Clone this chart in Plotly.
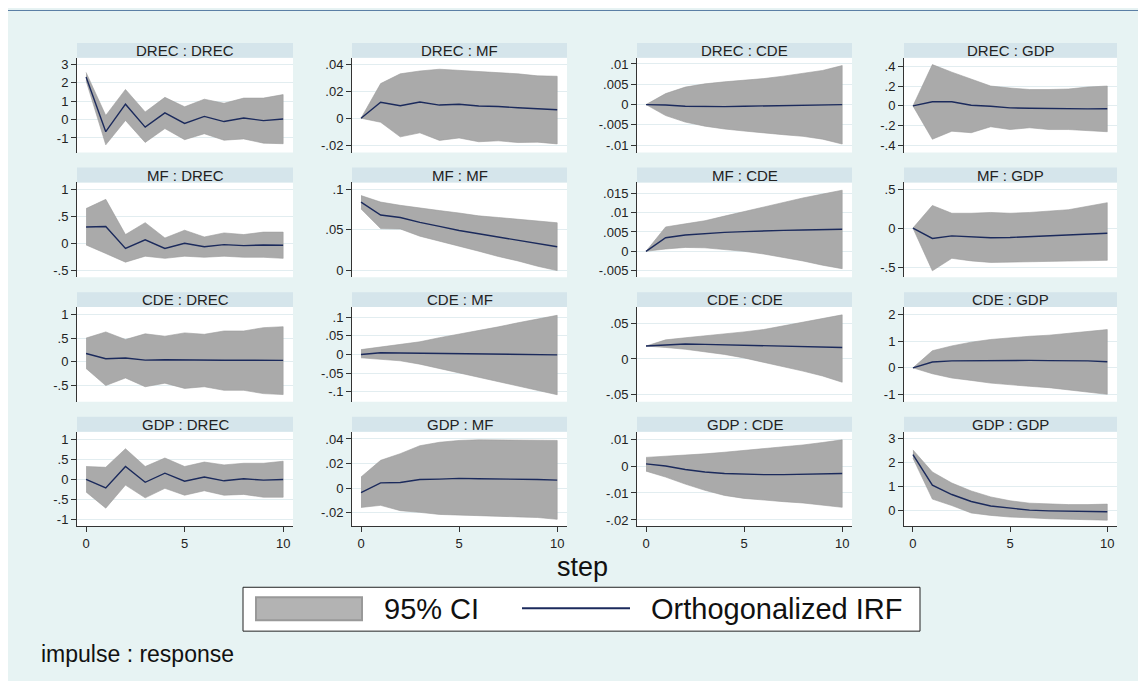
import plotly.graph_objects as go

# ---------------- data ----------------
variables = ["DREC", "MF", "CDE", "GDP"]
steps = list(range(11))
x_ticks = ["0", "5", "10"]

DREC_DREC_irf = [2.30, -0.66, 0.83, -0.41, 0.36, -0.21, 0.17, -0.11, 0.08, -0.06, 0.03]
DREC_DREC_lo = [2.10, -1.37, -0.05, -1.24, -0.49, -1.09, -0.77, -1.12, -1.05, -1.28, -1.31]
DREC_DREC_hi = [2.55, 0.22, 1.63, 0.41, 1.20, 0.69, 1.10, 0.88, 1.16, 1.16, 1.35]
DREC_DREC_ticks = ["-1", "0", "1", "2", "3"]

DREC_MF_irf = [0, .0118, .0092, .012, .0097, .0103, .009, .0087, .0077, .0072, .0062]
DREC_MF_lo = [0, -.003, -.0138, -.0108, -.0164, -.0146, -.0174, -.0167, -.018, -.0177, -.019]
DREC_MF_hi = [0, .0256, .0328, .0349, .0362, .0354, .0346, .0333, .0328, .0313, .031]
DREC_MF_ticks = ["-.02", "0", ".02", ".04"]

DREC_CDE_irf = [0, -.0001, -.0004, -.0005, -.0005, -.0004, -.0003, -.0002, -.0001, -.0001, 0]
DREC_CDE_lo = [0, -.0027, -.0043, -.0053, -.006, -.0065, -.007, -.0074, -.0078, -.0085, -.0097]
DREC_CDE_hi = [0, .0027, .0043, .0051, .0056, .006, .0064, .007, .0077, .0084, .0096]
DREC_CDE_ticks = ["-.01", "-.005", "0", ".005", ".01"]

DREC_GDP_irf = [0, .042, .042, .007, -.003, -.02, -.024, -.028, -.03, -.03, -.028]
DREC_GDP_lo = [0, -.336, -.255, -.27, -.21, -.238, -.22, -.238, -.238, -.25, -.26]
DREC_GDP_hi = [0, .416, .34, .27, .2, .18, .165, .165, .17, .19, .2]
DREC_GDP_ticks = ["-.4", "-.2", "0", ".2", ".4"]

MF_DREC_irf = [.30, .31, -.096, .064, -.096, 0, -.064, -.026, -.045, -.032, -.038]
MF_DREC_lo = [-.032, -.19, -.35, -.24, -.28, -.24, -.26, -.24, -.26, -.26, -.28]
MF_DREC_hi = [.64, .81, .16, .38, .096, .24, .115, .19, .16, .205, .205]
MF_DREC_ticks = ["-.5", "0", ".5", "1"]

MF_MF_irf = [.084, .068, .065, .059, .054, .049, .045, .041, .037, .033, .029]
MF_MF_lo = [.0756, .0513, .0509, .042, .036, .0295, .0235, .017, .0115, .005, -.0004]
MF_MF_hi = [.092, .084, .080, .0765, .0735, .0705, .067, .065, .063, .061, .0585]
MF_MF_ticks = ["0", ".05", ".1"]

MF_CDE_irf = [0, .0035, .0042, .0046, .0049, .0051, .0053, .0054, .0055, .0056, .0057]
MF_CDE_lo = [0, .0006, .001, .0009, .0005, 0, -.0007, -.0016, -.0025, -.0036, -.0045]
MF_CDE_hi = [0, .0063, .0071, .0079, .0091, .0103, .0115, .0127, .0138, .0148, .0158]
MF_CDE_ticks = ["-.005", "0", ".005", ".01", ".015"]

MF_GDP_irf = [0, -.133, -.10, -.11, -.124, -.12, -.11, -.10, -.089, -.075, -.067]
MF_GDP_lo = [0, -.547, -.387, -.42, -.44, -.435, -.43, -.43, -.42, -.418, -.413]
MF_GDP_hi = [0, .29, .19, .19, .2, .19, .2, .213, .235, .28, .325]
MF_GDP_ticks = ["-.5", "0", ".5"]

CDE_DREC_irf = [.175, .066, .08, .036, .044, .036, .036, .034, .034, .032, .03]
CDE_DREC_lo = [-.14, -.50, -.34, -.525, -.45, -.56, -.525, -.6, -.6, -.67, -.69]
CDE_DREC_hi = [.5, .63, .47, .59, .54, .61, .58, .65, .65, .72, .74]
CDE_DREC_ticks = ["-.5", "0", ".5", "1"]

CDE_MF_irf = [0, .0047, .004, .0035, .0033, .003, .002, .001, .001, 0, -.001]
CDE_MF_lo = [-.009, -.012, -.017, -.026, -.037, -.048, -.06, -.072, -.084, -.096, -.108]
CDE_MF_hi = [.013, .02, .025, .034, .045, .054, .064, .074, .085, .095, .105]
CDE_MF_ticks = ["-.1", "-.05", "0", ".05", ".1"]

CDE_CDE_irf = [.018, .0198, .0208, .0203, .0198, .0193, .0188, .0184, .0179, .0169, .016]
CDE_CDE_lo = [.018, .016, .0135, .0101, .0063, .0014, -.0048, -.0106, -.0169, -.0237, -.0324]
CDE_CDE_hi = [.018, .0266, .0295, .032, .0343, .0377, .041, .0459, .0507, .0556, .0614]
CDE_CDE_ticks = ["-.05", "0", ".05"]

CDE_GDP_irf = [0, .22, .26, .27, .28, .28, .28, .27, .27, .26, .23]
CDE_GDP_lo = [0, -.22, -.38, -.47, -.57, -.64, -.69, -.74, -.82, -.9, -.99]
CDE_GDP_hi = [0, .64, .82, .96, 1.06, 1.13, 1.18, 1.22, 1.29, 1.35, 1.43]
CDE_GDP_ticks = ["-1", "0", "1", "2"]

GDP_DREC_irf = [0, -.21, .32, -.07, .155, -.043, .06, -.034, .017, -.017, 0]
GDP_DREC_lo = [-.31, -.71, -.14, -.455, -.22, -.39, -.28, -.39, -.37, -.44, -.44]
GDP_DREC_hi = [.32, .30, .76, .32, .53, .32, .43, .36, .40, .40, .45]
GDP_DREC_ticks = ["-1", "-.5", "0", ".5", "1"]

GDP_MF_irf = [-.0037, .0042, .0045, .007, .0073, .0079, .0076, .0076, .0073, .007, .0065]
GDP_MF_lo = [-.0158, -.0141, -.0184, -.0198, -.0215, -.022, -.0223, -.0229, -.0235, -.024, -.0255]
GDP_MF_hi = [.009, .0226, .028, .0345, .0373, .0388, .0393, .0393, .039, .0388, .0388]
GDP_MF_ticks = ["-.02", "0", ".02", ".04"]

GDP_CDE_irf = [.0008, 0, -.0013, -.0022, -.0028, -.0031, -.0032, -.0032, -.0031, -.003, -.0028]
GDP_CDE_lo = [-.0019, -.0041, -.0067, -.009, -.0109, -.012, -.0127, -.0132, -.0137, -.0144, -.0153]
GDP_CDE_hi = [.0032, .0036, .004, .0045, .0051, .0058, .0064, .007, .0078, .0087, .0097]
GDP_CDE_ticks = ["-.02", "-.01", "0", ".01"]

GDP_GDP_irf = [2.35, 1.07, .68, .39, .2, .1, .03, 0, -.015, -.03, -.04]
GDP_GDP_lo = [2.2, .49, .22, -.09, -.19, -.26, -.29, -.33, -.35, -.38, -.39]
GDP_GDP_hi = [2.54, 1.62, 1.16, .83, .58, .42, .32, .28, .26, .26, .28]
GDP_GDP_ticks = ["0", "1", "2", "3"]

# ---------------- layout settings ----------------
OX, OY = 8, 8            # page body offset
W, H = 1138, 673         # figure size
FONT = "Liberation Sans, Arial, sans-serif"
BG = "#e7f3f3"
STRIP = "#d5e5eb"
GRID = "#e2edf0"
CI_FILL = "#aaaaaa"
IRF_COLOR = "#1b2a5c"

col_px = [(77, 293), (352, 567), (637, 852), (904, 1117)]
row_strip_top = [42, 167, 292, 417]
STRIP_H = 15
PLOT_H = 95

y_ranges = {
    ("DREC", "DREC"): [-1.79, 3.34], ("DREC", "MF"): [-.0254, .0446],
    ("DREC", "CDE"): [-.0118, .0115], ("DREC", "GDP"): [-.47, .484],
    ("MF", "DREC"): [-.628, 1.122], ("MF", "MF"): [-.0085, .1081],
    ("MF", "CDE"): [-.0067, .0178], ("MF", "GDP"): [-.629, .584],
    ("CDE", "DREC"): [-.843, 1.153], ("CDE", "MF"): [-.127, .127],
    ("CDE", "CDE"): [-.0597, .0722], ("CDE", "GDP"): [-1.27, 2.27],
    ("GDP", "DREC"): [-1.163, 1.18], ("GDP", "MF"): [-.0313, .0459],
    ("GDP", "CDE"): [-.0224, .0127], ("GDP", "GDP"): [-.652, 3.30],
}

g = globals()
fig = go.Figure()
shapes = []
annotations = []
layout_axes = {}


def fx(px):
    return (px - OX) / W


def fy(py):
    return 1 - (py - OY) / H


# top rule
shapes.append(dict(type="line", xref="paper", yref="paper", x0=0, x1=1, y0=fy(9.5), y1=fy(9.5),
                   line=dict(color="#5a7ea4", width=1), layer="below"))

for r, imp in enumerate(variables):
    for c, resp in enumerate(variables):
        n = r * 4 + c + 1
        key = f"{imp}_{resp}"
        irf = g[key + "_irf"]
        lo = g[key + "_lo"]
        hi = g[key + "_hi"]
        tick_lbl = g[key + "_ticks"]
        tick_val = [float(t) for t in tick_lbl]
        xs = "x" if n == 1 else f"x{n}"
        ys = "y" if n == 1 else f"y{n}"

        fig.add_trace(go.Scatter(
            x=steps + steps[::-1], y=hi + lo[::-1], fill="toself", mode="lines",
            fillcolor=CI_FILL, line=dict(color="#9c9c9c", width=0.6),
            xaxis=xs, yaxis=ys, showlegend=False, hoverinfo="skip"))
        fig.add_trace(go.Scatter(
            x=steps, y=irf, mode="lines", line=dict(color=IRF_COLOR, width=1.4),
            xaxis=xs, yaxis=ys, showlegend=False))

        x0, x1 = col_px[c]
        st = row_strip_top[r]
        ptop = st + STRIP_H
        pbot = ptop + PLOT_H
        last_row = (r == len(variables) - 1)

        xa = dict(domain=[fx(x0), fx(x1)], anchor=ys, range=[-0.46, 10.5],
                  showgrid=False, zeroline=False,
                  tickvals=[float(t) for t in x_ticks], ticktext=x_ticks,
                  showticklabels=last_row, ticks="outside" if last_row else "",
                  ticklen=5, tickcolor="#333", showline=last_row, linecolor="#333", linewidth=1,
                  tickfont=dict(family=FONT, size=13, color="#222"))
        ya = dict(domain=[fy(pbot), fy(ptop)], anchor=xs, range=y_ranges[(imp, resp)],
                  tickvals=tick_val, ticktext=tick_lbl, ticks="outside", ticklen=5,
                  tickcolor="#333", showline=True, linecolor="#333", linewidth=1,
                  showgrid=True, gridcolor=GRID, gridwidth=1, zeroline=False,
                  tickfont=dict(family=FONT, size=13, color="#222"))
        layout_axes["xaxis" if n == 1 else f"xaxis{n}"] = xa
        layout_axes["yaxis" if n == 1 else f"yaxis{n}"] = ya

        # white plot region
        shapes.append(dict(type="rect", xref="paper", yref="paper", x0=fx(x0), x1=fx(x1),
                           y0=fy(pbot), y1=fy(ptop), fillcolor="white",
                           line=dict(width=0), layer="below"))
        # strip
        shapes.append(dict(type="rect", xref="paper", yref="paper", x0=fx(x0), x1=fx(x1),
                           y0=fy(ptop), y1=fy(st), fillcolor=STRIP,
                           line=dict(width=0), layer="below"))
        annotations.append(dict(text=f"{imp} : {resp}", xref="paper", yref="paper",
                                x=fx((x0 + x1) / 2), y=fy(st + STRIP_H / 2), showarrow=False,
                                xanchor="center", yanchor="middle",
                                font=dict(family=FONT, size=15, color="#222")))

# x title
annotations.append(dict(text="step", xref="paper", yref="paper", x=fx(582), y=fy(568),
                        showarrow=False, xanchor="center", yanchor="middle",
                        font=dict(family=FONT, size=27, color="#111")))

# legend box
shapes.append(dict(type="rect", xref="paper", yref="paper", x0=fx(243), x1=fx(920),
                   y0=fy(632), y1=fy(588), fillcolor="white", line=dict(color="#222", width=1)))
shapes.append(dict(type="rect", xref="paper", yref="paper", x0=fx(256), x1=fx(362),
                   y0=fy(621), y1=fy(598), fillcolor="#b3b3b3", line=dict(color="#999", width=2)))
annotations.append(dict(text="95% CI", xref="paper", yref="paper", x=fx(382), y=fy(610),
                        showarrow=False, xanchor="left", yanchor="middle",
                        font=dict(family=FONT, size=29, color="#111")))
shapes.append(dict(type="line", xref="paper", yref="paper", x0=fx(522), x1=fx(630),
                   y0=fy(609), y1=fy(609), line=dict(color=IRF_COLOR, width=2)))
annotations.append(dict(text="Orthogonalized IRF", xref="paper", yref="paper", x=fx(649), y=fy(610),
                        showarrow=False, xanchor="left", yanchor="middle",
                        font=dict(family=FONT, size=29, color="#111")))

annotations.append(dict(text="impulse : response", xref="paper", yref="paper", x=fx(39), y=fy(655),
                        showarrow=False, xanchor="left", yanchor="middle",
                        font=dict(family=FONT, size=23, color="#111")))

fig.update_layout(
    width=W, height=H, autosize=False,
    margin=dict(l=0, r=0, t=0, b=0),
    paper_bgcolor=BG, plot_bgcolor="rgba(0,0,0,0)",
    showlegend=False, shapes=shapes, annotations=annotations,
    **layout_axes,
)

fig.write_html("out.html")
